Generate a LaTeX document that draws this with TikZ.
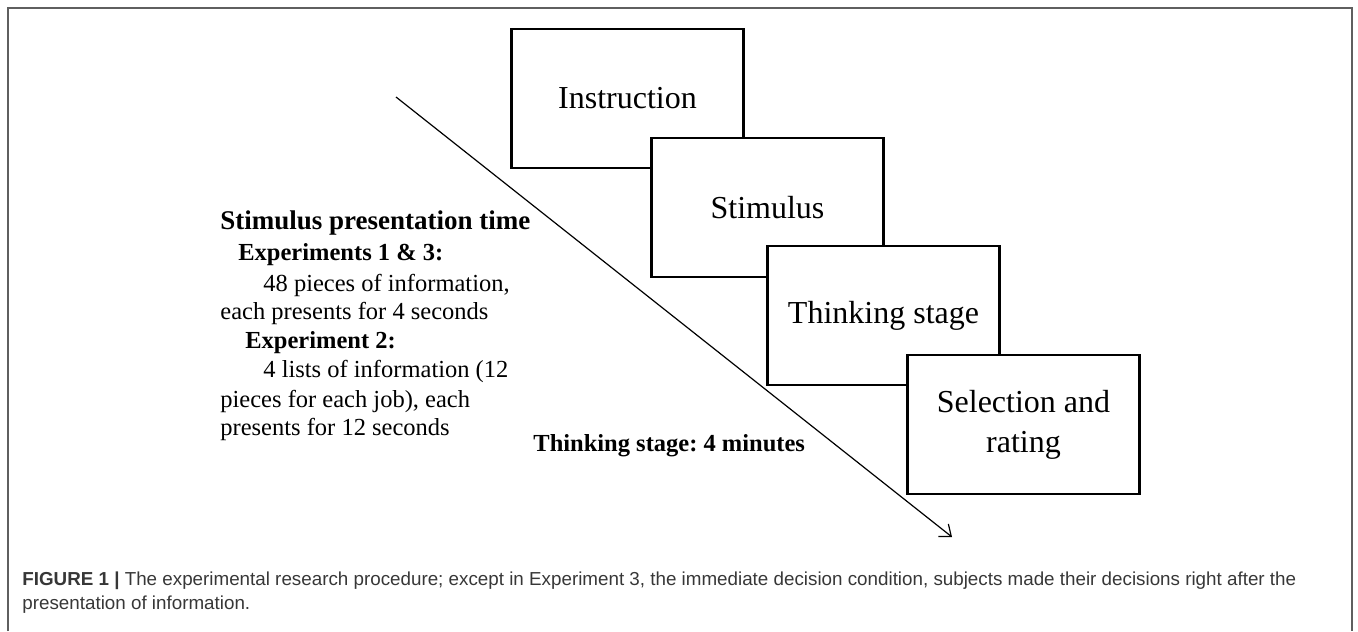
\documentclass[tikz,border=0pt]{standalone}
\usepackage{fontspec}
\setmainfont{Liberation Serif}
\newfontfamily\captionfont{Liberation Sans}
\usetikzlibrary{arrows.meta, positioning}
\definecolor{framegray}{RGB}{95,95,95}
\definecolor{captiongray}{RGB}{55,55,55}
\tikzset{
    stagebox/.style={draw, line width=1.3pt, fill=white, minimum width=116pt, minimum height=69.5pt, inner sep=0pt, outer sep=0pt, align=center, font=\fontsize{16}{20}\selectfont}, % the four stage boxes
    sidetext/.style={anchor=base west, inner sep=0pt, font=\fontsize{12.25}{14.75}\selectfont}, % plain lines of the timing notes
    sidehead/.style={sidetext, font=\fontsize{12.25}{14.75}\selectfont\bfseries}, % bold lines of the timing notes
    captext/.style={anchor=base west, inner sep=0pt, text=captiongray, font=\captionfont\fontsize{9.4}{12}\selectfont},
    timeline/.style={-{Straight Barb[length=5pt,width=8pt]}, line width=0.6pt}, % the time arrow
}
\begin{document}
\begin{tikzpicture}[x=0.5pt, y=-0.5pt]
                            \useasboundingbox (0,0) rectangle (1358,631);
                            \draw[framegray, line width=0.8pt] (8,631) |- (1352,8) -- (1352,631);

                            \coordinate (timestart) at (396,97);
                            \coordinate (timeend) at (952,537);
                            \draw[timeline] (timestart) -- (timeend);

                            \node[stagebox] (instr) at (627.5,98.5) {Instruction};
                            \node[stagebox, below right=-15pt and -46pt of instr] (stim) {Stimulus};
                            \node[stagebox, below right=-15.5pt and -58pt of stim] (think) {Thinking stage};
                            \node[stagebox, below right=-15pt and -46pt of think] (select) {Selection and\\rating};

                            \node[sidehead, font=\fontsize{13.5}{16}\selectfont\bfseries] (presthead) at (220,229) {Stimulus presentation time};
                            \node[sidehead] (exponehead) at (238,260) {Experiments 1 \& 3:};
                            \node[sidetext] (exponea) at (263,291) {48 pieces of information,};
                            \node[sidetext] (exponeb) at (220,319) {each presents for 4 seconds};
                            \node[sidehead] (exptwohead) at (245,348) {Experiment 2:};
                            \node[sidetext] (exptwoa) at (263,377) {4 lists of information (12};
                            \node[sidetext] (exptwob) at (220,407) {pieces for each job), each};
                            \node[sidetext] (exptwoc) at (220,435) {presents for 12 seconds};
                            \node[sidehead] (thinktime) at (533,451) {\frenchspacing Thinking stage: 4 minutes};

                            \node[captext] (capone) at (22,585) {\textbf{FIGURE 1 |} The experimental research procedure; except in Experiment 3, the immediate decision condition, subjects made their decisions right after the};
                            \node[captext] (captwo) at (22,609) {presentation of information.};
                        \end{tikzpicture}
\end{document}
